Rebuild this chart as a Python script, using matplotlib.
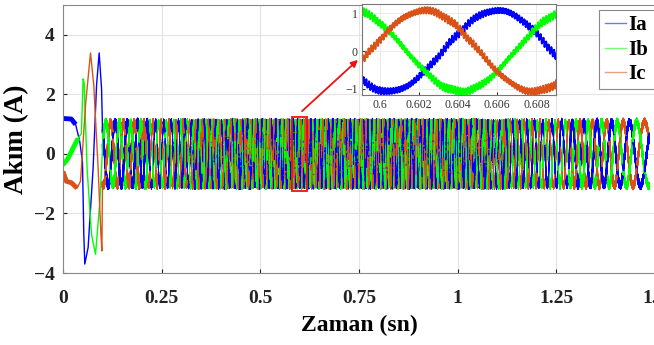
import numpy as np
import matplotlib
matplotlib.use('Agg')
import matplotlib.pyplot as plt

# ---------------- data ----------------
# start-up transient (t in s, current in A)
ta_tr = [0.0, 0.021, 0.032, 0.0425, 0.0493, 0.0527, 0.0552, 0.0636, 0.0763, 0.085, 0.0916, 0.0977]
ia_tr = [1.19, 1.17, 0.99, 0.41, -0.26, -2.7, -3.7, -3.15, -0.48, 2.3, 3.39, 2.19]
tb_tr = [0.0, 0.0127, 0.0255, 0.038, 0.0467, 0.051, 0.0535, 0.061, 0.0722, 0.0824, 0.0934]
ib_tr = [-0.37, -0.15, 0.19, 0.52, 0.69, 2.52, 2.4, -0.48, -2.7, -3.37, -1.59]
tc_tr = [0.0, 0.0085, 0.0212, 0.0356, 0.0443, 0.051, 0.0577, 0.0697, 0.078, 0.089, 0.096, 0.0985]
ic_tr = [-0.59, -0.92, -0.97, -1.15, -0.92, 0.41, 1.74, 3.39, 2.3, -0.48, -2.7, -3.26]
# end of the slow (thick, rippled) part of the start
slow_end = [0.040, 0.046, 0.044]

# steady-state: supply frequency profile (Hz) and amplitude (A)
f_time = [0.10, 0.30, 0.55, 0.95, 1.25, 1.485]
f_hz = [25.0, 58.2, 90.0, 90.0, 40.0, 14.3]
amp = 1.08
t_start, t_end = 0.100, 1.485
t_ref = 0.6023  # time of an Ic peak (read in the inset)

# inset window
zoom_x = [0.5991, 0.6090]
zoom_y = [-1.173, 1.253]

labels = ['Ia', 'Ib', 'Ic']
colors = {'Ia': '#0000ff', 'Ib': '#00ff00', 'Ic': '#d95319'}

# ---------------- build steady-state waveforms ----------------
dt = 2e-5
t = np.arange(t_start, t_end, dt)
f = np.interp(t, f_time, f_hz)
phi = 2 * np.pi * np.cumsum(f) * dt
phi += 2 * np.pi / 3 - np.interp(t_ref, t, phi)
rip = (0.085 * (2 * np.abs(2 * ((t * 7300.0) % 1.0) - 1) - 1)
       + 0.04 * np.sin(2 * np.pi * 21700 * t))
ia = amp * np.cos(phi + 2 * np.pi / 3) + rip
ib = amp * np.cos(phi) + np.roll(rip, 7)
ic = amp * np.cos(phi - 2 * np.pi / 3) + np.roll(rip, 13)

W, H = 654, 345
fig = plt.figure(figsize=(W / 100, H / 100), dpi=100)
plt.rcParams['font.family'] = ['Liberation Serif', 'DejaVu Serif']

ax = fig.add_axes([63 / W, 72 / H, (655 - 63) / W, (273 - 5) / H])
tr = [(ta_tr, ia_tr, 'Ia'), (tb_tr, ib_tr, 'Ib'), (tc_tr, ic_tr, 'Ic')]
ss = [(ia, 'Ia'), (ib, 'Ib'), (ic, 'Ic')]
for (tt, vv, key), (vs, _), se in zip(tr, ss, slow_end):
    ax.plot(np.r_[tt, t[0]], np.r_[vv, vs[0]], color=colors[key], lw=1.0, zorder=2)
    m = np.array(tt) <= se
    ax.plot(np.array(tt)[m], np.array(vv)[m], color=colors[key], lw=3.5,
            solid_capstyle='butt', zorder=2)

# steady state drawn in short pieces, rotating the stacking order of the phases
n_chunk = 150
starts = np.arange(0, len(t), n_chunk)
for k, s0 in enumerate(starts):
    sl = slice(s0, min(s0 + n_chunk + 1, len(t)))
    tm = t[s0]
    lw = 1.1 if (tm < 0.22 or tm > 1.28) else 0.65
    for j, (vs, key) in enumerate(ss):
        ax.plot(t[sl], vs[sl], color=colors[key], lw=lw, zorder=2 + ((j + k) % 3) * 0.01)

ax.set_xlim(0, 1.5)
ax.set_ylim(-4, 5)
ax.set_xticks([0, 0.25, 0.5, 0.75, 1, 1.25, 1.5])
ax.set_xticklabels(['0', '0.25', '0.5', '0.75', '1', '1.25', '1.5'])
ax.set_yticks([-4, -2, 0, 2, 4])
ax.grid(True, color='#e3e3e3', lw=0.8)
ax.set_axisbelow(True)
ax.tick_params(direction='in', length=3, colors='#222222', labelsize=14)
ax.tick_params(axis='x', pad=12)
ax.tick_params(axis='y', pad=6)
for lab in ax.get_xticklabels() + ax.get_yticklabels():
    lab.set_fontweight('bold')
for s in ax.spines.values():
    s.set_color('#888888')
    s.set_linewidth(0.8)
ax.set_xlabel('Zaman (sn)', fontsize=17, fontweight='bold', labelpad=6)
ax.set_ylabel('Akım (A)', fontsize=19.5, fontweight='bold', labelpad=3)

# zoom rectangle and arrow
ax.add_patch(plt.Rectangle((0.5805, -1.26), 0.038, 2.5, fill=False,
                           ec='#ee1111', lw=1.3, zorder=5))
ax.annotate('', xy=(360 / W, 1 - 58 / H), xycoords='figure fraction',
            xytext=(300 / W, 1 - 113 / H), textcoords='figure fraction',
            arrowprops=dict(arrowstyle='-|>', color='#ee1111', lw=1.3, mutation_scale=10))

# inset
axi = fig.add_axes([362 / W, (H - 95) / H, (556 - 362) / W, (95 - 4) / H])
m = (t >= zoom_x[0] - 0.001) & (t <= zoom_x[1] + 0.001)
for vs, key in ss:
    axi.plot(t[m], vs[m], color=colors[key], lw=1.5)
axi.set_xlim(zoom_x)
axi.set_ylim(zoom_y)
axi.set_xticks([0.6, 0.602, 0.604, 0.606, 0.608])
axi.set_xticklabels(['0.6', '0.602', '0.604', '0.606', '0.608'])
axi.set_yticks([-1, 0, 1])
axi.grid(True, color='#e6e6e6', lw=0.6)
axi.tick_params(direction='in', length=2, labelsize=8.5, colors='#333333', pad=3)
for s in axi.spines.values():
    s.set_color('#777777')
    s.set_linewidth(0.8)

# legend: its box runs off the right edge of the canvas, as in the reference
fig.patches.append(plt.Rectangle((599 / W, 1 - 89 / H), 80 / W, 79 / H, transform=fig.transFigure,
                                 fc='white', ec='#888888', lw=0.8, zorder=10))
handles = [plt.Line2D([], [], color=colors[k], lw=1.0, alpha=0.55) for k in labels]
leg = fig.legend(handles, labels, loc='upper left',
                 bbox_to_anchor=(599 / W, 1 - 9 / H), bbox_transform=fig.transFigure,
                 borderaxespad=0, prop={'weight': 'bold', 'size': 15},
                 handlelength=1.0, handletextpad=0.1, labelspacing=0.22, borderpad=0.3,
                 frameon=False)
leg.set_zorder(11)

fig.savefig('out.png', dpi=100)
